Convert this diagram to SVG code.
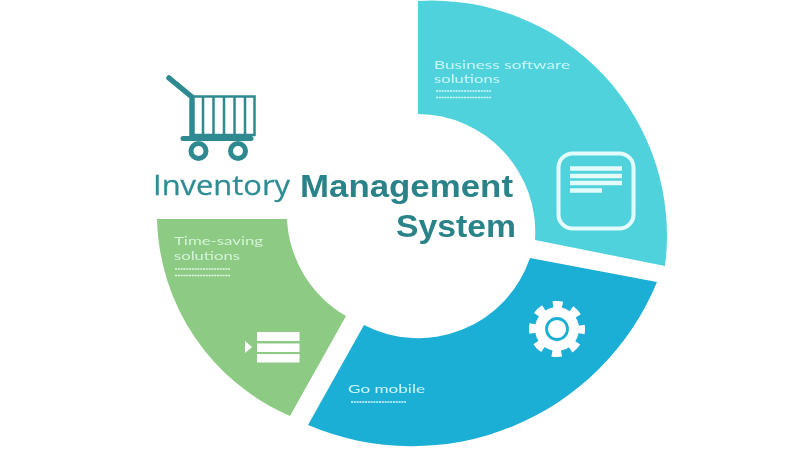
<svg xmlns="http://www.w3.org/2000/svg" width="800" height="450" viewBox="0 0 800 450">
<defs>
<filter id="soft" x="-5%" y="-5%" width="110%" height="110%"><feGaussianBlur stdDeviation="0.6"/></filter>
</defs>
<style>
.lbl{font-family:"Lato","Liberation Sans",sans-serif;font-size:12px;}
.dots{fill:none;stroke-width:1.6;stroke-dasharray:2 0.8;}
.ttl{font-family:"Liberation Sans",Arial,sans-serif;font-weight:bold;font-size:32px;fill:#2b8389;}
.w{fill:#fff;}
</style>
<rect width="800" height="450" fill="#fff"/>
<g filter="url(#soft)">
<g id="cart" fill="none" stroke="#2f8a90">
<path d="M169 78L192 97V138" stroke-width="5.500" stroke-linecap="round" stroke-linejoin="round"/>
<path d="M193 96.500H254.500V135H193" stroke-width="2.500"/>
<path d="M203 97V135M213.500 97V135M224 97V135M234.500 97V135M245 97V135" stroke-width="2.500"/>
<path d="M183 138.500H251" stroke-width="5" stroke-linecap="round"/>
<circle cx="198.500" cy="151" r="7.500" stroke-width="5"/>
<circle cx="238" cy="151" r="7.500" stroke-width="5"/>
</g>
<g id="title">
<text x="153" y="195" font-family="'Open Sans','Liberation Sans',sans-serif" font-size="27" fill="#2f8d93" stroke="#2f8d93" stroke-width="0.3" textLength="137" lengthAdjust="spacingAndGlyphs">Inventory</text>
<text class="ttl" x="300" y="197" textLength="213" lengthAdjust="spacingAndGlyphs">Management</text>
<text class="ttl" x="396" y="237" textLength="120" lengthAdjust="spacingAndGlyphs">System</text>
</g>
<g id="business">
<path d="M418 1A235 235 0 0 1 665 266L535 240A118 118 0 0 0 418 114Z" fill="#4fd2dc"/>
<text class="lbl" x="434" y="68.500" fill="#c9f5f5" textLength="136" lengthAdjust="spacingAndGlyphs">Business software</text>
<text class="lbl" x="434" y="83" fill="#c9f5f5" textLength="66" lengthAdjust="spacingAndGlyphs">solutions</text>
<path class="dots" stroke="#d6f8f8" d="M436 91H491M436 97.500H491"/>
<rect x="558.500" y="153.500" width="75" height="75" rx="14" fill="none" stroke="#e4fbfb" stroke-width="4"/>
<path d="M570 168.500H622M570 176H622M570 183H622M570 190.500H602" stroke="#e4fbfb" stroke-width="4.500" fill="none"/>
</g>
<g id="mobile">
<path d="M530 258L657 282A265 265 0 0 1 308 425L364 325A118 118 0 0 0 530 258Z" fill="#1fafd6"/>
<text class="lbl" x="348" y="393" fill="#c9f5f5" textLength="77" lengthAdjust="spacingAndGlyphs">Go mobile</text>
<path class="dots" stroke="#d6f8f8" d="M351 402H406"/>
<circle cx="557" cy="329" r="22" fill="#fff"/>
<circle cx="557" cy="329" r="24" fill="none" stroke="#fff" stroke-width="8" stroke-dasharray="9.420 9.420" stroke-dashoffset="4.710"/>
<circle cx="557" cy="329" r="10.500" fill="#fff" stroke="#1fafd6" stroke-width="2.800"/>
</g>
<g id="timesaving">
<path d="M157 219H287A118 118 0 0 0 346 316L290 416A220 220 0 0 1 157 219Z" fill="#8dcb85"/>
<text class="lbl" x="174" y="245" fill="#d4f3d8" textLength="89" lengthAdjust="spacingAndGlyphs">Time-saving</text>
<text class="lbl" x="174" y="259.500" fill="#d4f3d8" textLength="66" lengthAdjust="spacingAndGlyphs">solutions</text>
<path class="dots" stroke="#e4f8e4" d="M175 269H230M175 275.500H230"/>
<rect class="w" x="257" y="332" width="42.500" height="9"/>
<rect class="w" x="257" y="343.500" width="42.500" height="8.500"/>
<rect class="w" x="257" y="354" width="42.500" height="8.500"/>
<path class="w" d="M245 341L252 347L245 353Z"/>
</g>
</g>
</svg>
